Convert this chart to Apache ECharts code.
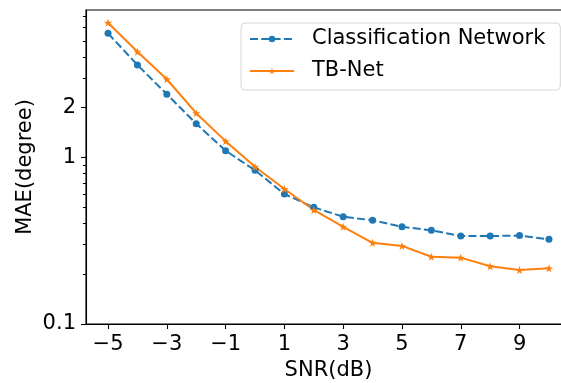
<!DOCTYPE html>
<html>
<head>
<meta charset="utf-8">
<script src="https://cdn.jsdelivr.net/npm/echarts@6/dist/echarts.min.js"></script>
<style>
    html, body { margin: 0; padding: 0; background: #fff; }
    #chart { width: 561px; height: 383px; }
</style>
</head>
<body>
<div id="chart"></div>
<script>
    // SNR 轴
    const snr = [-5, -4, -3, -2, -1, 0, 1, 2, 3, 4, 5, 6, 7, 8, 9, 10];
    // 两条曲线的 MAE
    const classNet = [5.54, 3.58, 2.39, 1.59, 1.096, 0.836, 0.602, 0.501, 0.440, 0.419, 0.383, 0.365, 0.337, 0.337, 0.339, 0.322];
    const tbNet = [6.42, 4.30, 2.94, 1.84, 1.25, 0.878, 0.645, 0.483, 0.383, 0.307, 0.294, 0.253, 0.250, 0.222, 0.211, 0.216];
    const seriesNames = ['Classification Network', 'TB-Net'];
    // 刻度
    const xTicks = [-5, -3, -1, 1, 3, 5, 7, 9];
    const yMajor = [0.1, 1, 2];
    const yMinor = [0.2, 0.3, 0.4, 0.5, 0.6, 0.7, 0.8, 0.9, 3, 4, 5, 6, 7];

    const font = 'DejaVu Sans';
    const star = 'path://M0,-10 L2.35,-3.24 L9.51,-3.09 L3.8,1.24 L5.88,8.09 L0,4 L-5.88,8.09 L-3.8,1.24 L-9.51,-3.09 L-2.35,-3.24 Z';

    const chart = echarts.init(document.getElementById('chart'));
    chart.setOption({
        animation: false,
        grid: {
            left: 86, top: 10, right: -10, bottom: 59,
            outerBoundsMode: 'none',
            show: true, borderColor: '#000', borderWidth: 1.1
        },
        legend: {
            orient: 'vertical',
            left: 241, top: 23,
            padding: [5, 15, 8, 8],
            itemWidth: 44, itemGap: 10,
            itemHeight: 8,
            backgroundColor: 'rgba(255,255,255,0.8)',
            borderColor: '#d6d6d6', borderWidth: 1, borderRadius: 4,
            textStyle: { fontFamily: font, fontSize: 21, lineHeight: 22, color: '#000', padding: [0, 0, 0, 13] },
            data: seriesNames
        },
        xAxis: {
            type: 'value',
            min: -5.75, max: 10.75,
            name: 'SNR(dB)', nameLocation: 'middle', nameGap: 36,
            nameMoveOverlap: false,
            nameTextStyle: { fontFamily: font, fontSize: 21, color: '#000' },
            axisLine: { onZero: false, lineStyle: { color: '#000', width: 1.1 } },
            axisTick: { customValues: xTicks, length: 5, lineStyle: { color: '#000', width: 1.1 } },
            axisLabel: {
                customValues: xTicks, margin: 10,
                fontFamily: font, fontSize: 21, color: '#000',
                formatter: v => v < 0 ? '\u2212' + Math.abs(v) : String(v)
            },
            splitLine: { show: false }
        },
        yAxis: [
            {
                type: 'log', logBase: 10,
                min: 0.1, max: 7.65,
                name: 'MAE(degree)', nameLocation: 'middle', nameGap: 50,
                nameMoveOverlap: false,
                nameTextStyle: { fontFamily: font, fontSize: 21, color: '#000' },
                axisLine: { show: true, onZero: false, lineStyle: { color: '#000', width: 1.1 } },
                axisTick: { customValues: yMajor, length: 5, lineStyle: { color: '#000', width: 1.1 } },
                axisLabel: {
                    customValues: yMajor, margin: 10,
                    fontFamily: font, fontSize: 21, color: '#000',
                    formatter: v => String(+v.toPrecision(3))
                },
                splitLine: { show: false }
            },
            {
                // 次刻度
                type: 'log', logBase: 10,
                min: 0.1, max: 7.65,
                position: 'left',
                axisLine: { show: false, onZero: false },
                axisTick: { show: true, customValues: yMinor, length: 3, lineStyle: { color: '#000', width: 1 } },
                axisLabel: { show: false },
                splitLine: { show: false }
            }
        ],
        series: [
            {
                name: seriesNames[0],
                type: 'line',
                data: snr.map((x, i) => [x, classNet[i]]),
                symbol: 'circle', symbolSize: 7,
                itemStyle: { color: '#1f77b4' },
                lineStyle: { color: '#1f77b4', width: 2, type: [8, 3.3] }
            },
            {
                name: seriesNames[1],
                type: 'line',
                data: snr.map((x, i) => [x, tbNet[i]]),
                symbol: star, symbolSize: 8,
                itemStyle: { color: '#ff7f0e' },
                lineStyle: { color: '#ff7f0e', width: 2 }
            }
        ]
    });
</script>
</body>
</html>
